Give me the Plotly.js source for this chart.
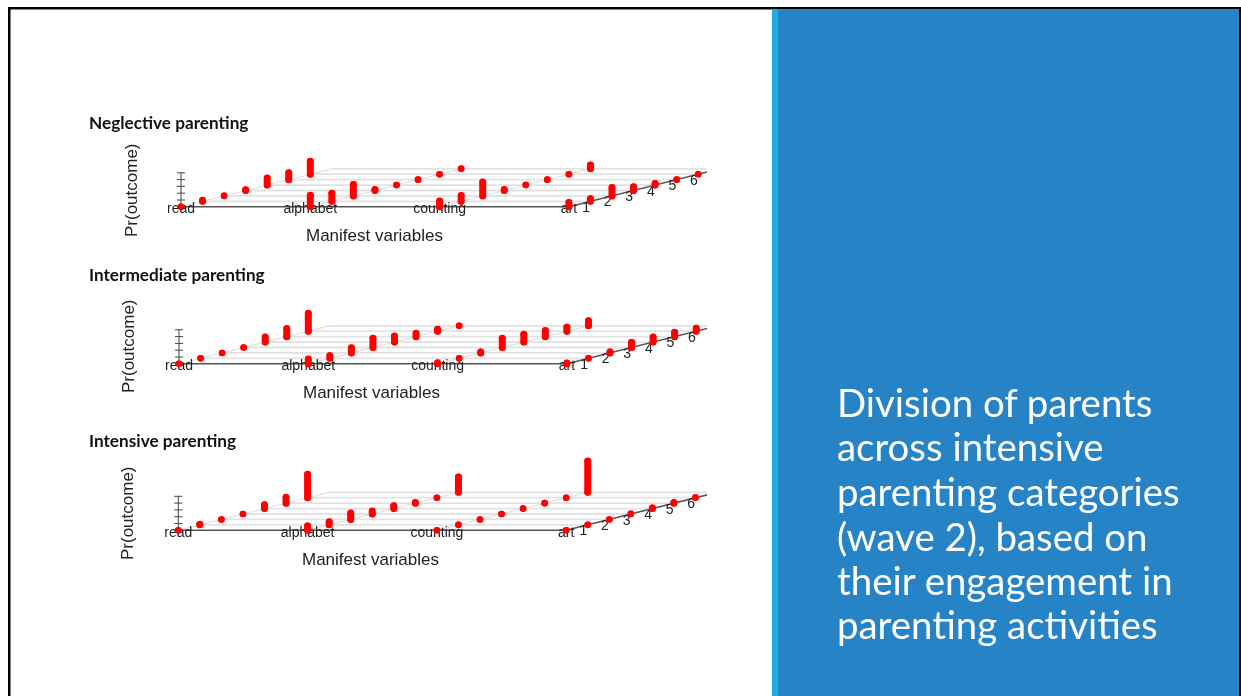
<!DOCTYPE html>
<html><head><meta charset="utf-8">
<script src="https://cdn.plot.ly/plotly-3.0.1.min.js"></script>
<style>html,body{margin:0;padding:0;background:#fff;overflow:hidden}#chart{width:1241px;height:696px;filter:blur(0.6px)}
.scatterlayer .js-line{stroke-linecap:round}</style>
</head><body><div id="chart"></div>
<script>
const variables = ["read","alphabet","counting","art"];
const outcomeTicks = [1,2,3,4,5,6];
const probTicks = [0,0.2,0.4,0.6,0.8,1];
const panelTitles = ["Neglective parenting","Intermediate parenting","Intensive parenting"];
const sideTitle = ["Division of parents","across intensive","parenting categories","(wave 2), based on","their engagement in","parenting activities"];

const neglectiveRead     = [0,0.03,0.01,0.02,0.21,0.20,0.38];
const neglectiveAlphabet = [0.34,0.24,0.34,0.03,0,0,0,0.01];
const neglectiveCounting = [0.17,0.17,0.41,0.03,0.01,0,0,0.11];
const neglectiveArt      = [0.13,0.08,0.25,0.11,0.05,0,0];

const intermediateRead     = [0,0,0,0,0.15,0.24,0.53];
const intermediateAlphabet = [0.14,0.08,0.15,0.27,0.18,0.10,0.06,0];
const intermediateCounting = [0.03,0,0.03,0.27,0.23,0.18,0.12,0.15];
const intermediateArt      = [0.02,0,0.03,0.15,0.15,0.13,0.09];

const intensiveRead     = [0,0.02,0,0,0.11,0.17,0.69];
const intensiveAlphabet = [0.13,0.09,0.19,0.09,0.08,0.02,0,0.45];
const intensiveCounting = [0,0,0,0,0,0,0,0.92];
const intensiveArt      = [0,0,0,0.01,0.02,0.02,0.01];

const panelValues = [
  [neglectiveRead,neglectiveAlphabet,neglectiveCounting,neglectiveArt],
  [intermediateRead,intermediateAlphabet,intermediateCounting,intermediateArt],
  [intensiveRead,intensiveAlphabet,intensiveCounting,intensiveArt]
];

// page geometry of each small lattice panel
const W=1241,H=696;
const pxX=21.55, pxP=34, shear=5.43/34, rowGap=6, depth=7, rightEnd=24.7;
const geom=[
 {bx:181,by:206.8,top:130,bot:250,titleY:122,ylabX:132,ylabY:190,xlabX:374,xlabY:235},
 {bx:179,by:363.8,top:285,bot:405,titleY:274,ylabX:128,ylabY:346,xlabX:372,xlabY:392},
 {bx:178.3,by:530.3,top:445,bot:575,titleY:440,ylabX:127,ylabY:513,xlabX:371,xlabY:559}
];
const L=40,R=707;
const px=x=>x/W, py=y=>1-y/H;
const traces=[],layout={
  width:W,height:H,margin:{l:0,r:0,t:0,b:0},showlegend:false,hovermode:false,
  paper_bgcolor:"#fff",plot_bgcolor:"rgba(0,0,0,0)",shapes:[],annotations:[]
};
function rect(x0,y0,x1,y1,c){layout.shapes.push({type:"rect",xref:"paper",yref:"paper",layer:"below",x0:px(x0),x1:px(x1),y0:py(y0),y1:py(y1),fillcolor:c,line:{width:0}});}
rect(0,0,W,H,"#ffffff");
rect(8,7,W,H,"#000000");
rect(10.5,9.5,1239,H,"#ffffff");
rect(772,9.5,778,H,"#1CADE4");
rect(778,9.5,1239,H,"#2683C6");

function ann(text,x,y,opt){layout.annotations.push(Object.assign({text,xref:"paper",yref:"paper",x:px(x),y:py(y),showarrow:false,xanchor:"center",yanchor:"middle",borderpad:0},opt));}

geom.forEach((g,k)=>{
  const id=k===0?"":String(k+1), xa="x"+id, ya="y"+id;
  layout["xaxis"+id]={domain:[px(L),px(R)],range:[(L-g.bx)/pxX,(R-g.bx)/pxX],visible:false,fixedrange:true,anchor:ya};
  layout["yaxis"+id]={domain:[py(g.bot),py(g.top)],range:[(g.by-g.bot)/pxP,(g.by-g.top)/pxP],visible:false,fixedrange:true,anchor:xa};
  const base={xaxis:xa,yaxis:ya,type:"scatter",hoverinfo:"skip"};
  // floor: horizontal rules and rows
  const gx=[],gy=[];
  for(let j=1;j<=depth;j++){gx.push(j,rowGap*3+j,null);gy.push(j*shear,j*shear,null);}
  traces.push(Object.assign({},base,{mode:"lines",x:gx,y:gy,line:{color:"#e2e2e2",width:1.8}}));
  const rx=[],ry=[];
  variables.forEach((v,c)=>{ if(c<3){rx.push(c*rowGap,c*rowGap+depth,null);ry.push(0,depth*shear,null);} });
  traces.push(Object.assign({},base,{mode:"lines",x:rx,y:ry,line:{color:"#dcdcdc",width:1}}));
  // front edge and outcome edge
  traces.push(Object.assign({},base,{mode:"lines",x:[0,rowGap*3,rightEnd],y:[0,0,(rightEnd-rowGap*3)*shear],line:{color:"#555",width:1.6}}));
  // probability axis
  const zx=[0,0,null],zy=[0,probTicks[probTicks.length-1],null];
  probTicks.forEach(t=>{zx.push(-0.17,0.17,null);zy.push(t,t,null);});
  traces.push(Object.assign({},base,{mode:"lines",x:zx,y:zy,line:{color:"#444",width:1}}));
  // labels
  traces.push(Object.assign({},base,{mode:"text",x:variables.map((v,c)=>c*rowGap),y:variables.map(()=>-3/pxP),
    text:variables,textposition:"middle center",textfont:{family:"Liberation Sans",size:14,color:"#222"}}));
  traces.push(Object.assign({},base,{mode:"text",x:outcomeTicks.map(t=>rowGap*3+t-0.2),y:outcomeTicks.map(t=>t*shear-7/pxP),
    text:outcomeTicks.map(String),textposition:"middle center",textfont:{family:"Liberation Sans",size:14,color:"#222"}}));
  // probability bars
  const bx=[],by=[];
  panelValues[k].forEach((vals,c)=>vals.forEach((p,i)=>{
    const X=c*rowGap+i, F=i*shear;
    bx.push(X,X,null);by.push(F,F+p,null);
  }));
  traces.push(Object.assign({},base,{mode:"lines",x:bx,y:by,connectgaps:false,
    line:{color:"#ff0000",width:7}}));
  traces.push(Object.assign({},base,{mode:"markers",x:bx,y:by,
    marker:{color:"#ff0000",size:6.6,line:{width:0}}}));
  ann(panelTitles[k],88,g.titleY,{xanchor:"left",font:{family:"Lato",size:17.2,color:"#111",weight:700}});
  ann("Manifest variables",g.xlabX,g.xlabY,{font:{family:"Liberation Sans",size:17,color:"#222"}});
  ann("Pr(outcome)",g.ylabX,g.ylabY,{textangle:-90,font:{family:"Liberation Sans",size:17,color:"#222"}});
});
const sideY=[402,446,491,536,580,624];
sideTitle.forEach((s,i)=>ann(s,836,sideY[i],{xanchor:"left",font:{family:"Lato",size:38.4,color:"#fff"}}));
Plotly.newPlot("chart",traces,layout,{displayModeBar:false,staticPlot:true});
</script></body></html>
